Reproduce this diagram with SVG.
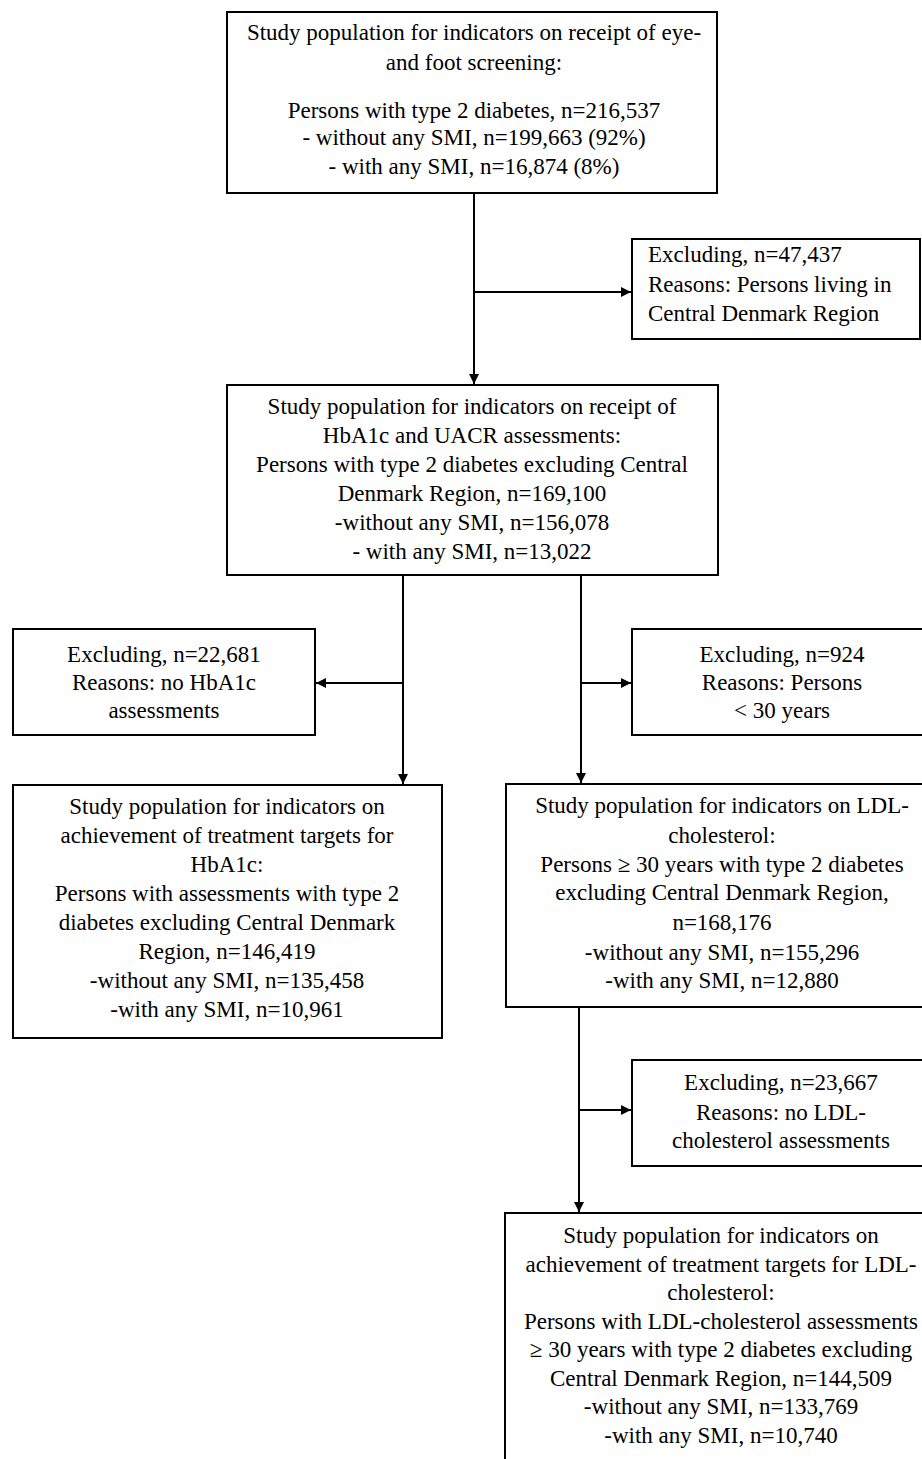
<svg xmlns="http://www.w3.org/2000/svg" width="922" height="1459" viewBox="0 0 922 1459">
<style>
.box{fill:#fff;stroke:#000;stroke-width:2}
text{font-family:"Liberation Serif","Times New Roman",serif;font-size:23px;fill:#000}
.c{text-anchor:middle}
.ln{fill:none;stroke:#000;stroke-width:2}
</style>
<defs>
<marker id="ah" viewBox="0 0 10 10" refX="10" refY="5" markerWidth="5" markerHeight="5" orient="auto" markerUnits="strokeWidth">
<path d="M0,0 L10,5 L0,10 z" fill="#000"/>
</marker>
</defs>
<rect width="922" height="1459" fill="#fff"/>
<g id="connectors">
<line class="ln" x1="474" y1="193" x2="474" y2="384" marker-end="url(#ah)"/>
<line class="ln" x1="474" y1="292" x2="631" y2="292" marker-end="url(#ah)"/>
<line class="ln" x1="403" y1="575" x2="403" y2="784" marker-end="url(#ah)"/>
<line class="ln" x1="403" y1="683" x2="316" y2="683" marker-end="url(#ah)"/>
<line class="ln" x1="581" y1="575" x2="581" y2="783" marker-end="url(#ah)"/>
<line class="ln" x1="581" y1="683" x2="631" y2="683" marker-end="url(#ah)"/>
<line class="ln" x1="579" y1="1007" x2="579" y2="1212" marker-end="url(#ah)"/>
<line class="ln" x1="579" y1="1110" x2="631" y2="1110" marker-end="url(#ah)"/>
</g>
<g id="n1">
<rect class="box" x="227" y="12" width="490" height="181"/>
<text class="c" x="474" y="40">Study population for indicators on receipt of eye-</text>
<text class="c" x="474" y="70">and foot screening:</text>
<text class="c" x="474" y="118">Persons with type 2 diabetes, n=216,537</text>
<text class="c" x="474" y="145">- without any SMI, n=199,663 (92%)</text>
<text class="c" x="474" y="174">- with any SMI, n=16,874 (8%)</text>
</g>
<g id="n2">
<rect class="box" x="632" y="239" width="288" height="100"/>
<text x="648" y="262">Excluding, n=47,437</text>
<text x="648" y="292">Reasons: Persons living in</text>
<text x="648" y="321">Central Denmark Region</text>
</g>
<g id="n3">
<rect class="box" x="227" y="385" width="491" height="190"/>
<text class="c" x="472" y="414">Study population for indicators on receipt of</text>
<text class="c" x="472" y="443">HbA1c and UACR assessments:</text>
<text class="c" x="472" y="472">Persons with type 2 diabetes excluding Central</text>
<text class="c" x="472" y="501">Denmark Region, n=169,100</text>
<text class="c" x="472" y="530">-without any SMI, n=156,078</text>
<text class="c" x="472" y="559">- with any SMI, n=13,022</text>
</g>
<g id="n4">
<rect class="box" x="13" y="629" width="302" height="106"/>
<text class="c" x="164" y="662">Excluding, n=22,681</text>
<text class="c" x="164" y="690">Reasons: no HbA1c</text>
<text class="c" x="164" y="718">assessments</text>
</g>
<g id="n5">
<rect class="box" x="632" y="629" width="300" height="106"/>
<text class="c" x="782" y="662">Excluding, n=924</text>
<text class="c" x="782" y="690">Reasons: Persons</text>
<text class="c" x="782" y="718">&lt; 30 years</text>
</g>
<g id="n6">
<rect class="box" x="13" y="785" width="429" height="253"/>
<text class="c" x="227" y="814">Study population for indicators on</text>
<text class="c" x="227" y="843">achievement of treatment targets for</text>
<text class="c" x="227" y="872">HbA1c:</text>
<text class="c" x="227" y="901">Persons with assessments with type 2</text>
<text class="c" x="227" y="930">diabetes excluding Central Denmark</text>
<text class="c" x="227" y="959">Region, n=146,419</text>
<text class="c" x="227" y="988">-without any SMI, n=135,458</text>
<text class="c" x="227" y="1017">-with any SMI, n=10,961</text>
</g>
<g id="n7">
<rect class="box" x="506" y="784" width="432" height="223"/>
<text class="c" x="722" y="813">Study population for indicators on LDL-</text>
<text class="c" x="722" y="843">cholesterol:</text>
<text class="c" x="722" y="872">Persons ≥ 30 years with type 2 diabetes</text>
<text class="c" x="722" y="900">excluding Central Denmark Region,</text>
<text class="c" x="722" y="930">n=168,176</text>
<text class="c" x="722" y="960">-without any SMI, n=155,296</text>
<text class="c" x="722" y="988">-with any SMI, n=12,880</text>
</g>
<g id="n8">
<rect class="box" x="632" y="1060" width="298" height="106"/>
<text class="c" x="781" y="1090">Excluding, n=23,667</text>
<text class="c" x="781" y="1120">Reasons: no LDL-</text>
<text class="c" x="781" y="1148">cholesterol assessments</text>
</g>
<g id="n9">
<rect class="box" x="505" y="1213" width="433" height="260"/>
<text class="c" x="721" y="1243">Study population for indicators on</text>
<text class="c" x="721" y="1272">achievement of treatment targets for LDL-</text>
<text class="c" x="721" y="1300">cholesterol:</text>
<text class="c" x="721" y="1329">Persons with LDL-cholesterol assessments</text>
<text class="c" x="721" y="1357">≥ 30 years with type 2 diabetes excluding</text>
<text class="c" x="721" y="1386">Central Denmark Region, n=144,509</text>
<text class="c" x="721" y="1414">-without any SMI, n=133,769</text>
<text class="c" x="721" y="1443">-with any SMI, n=10,740</text>
</g>
</svg>
